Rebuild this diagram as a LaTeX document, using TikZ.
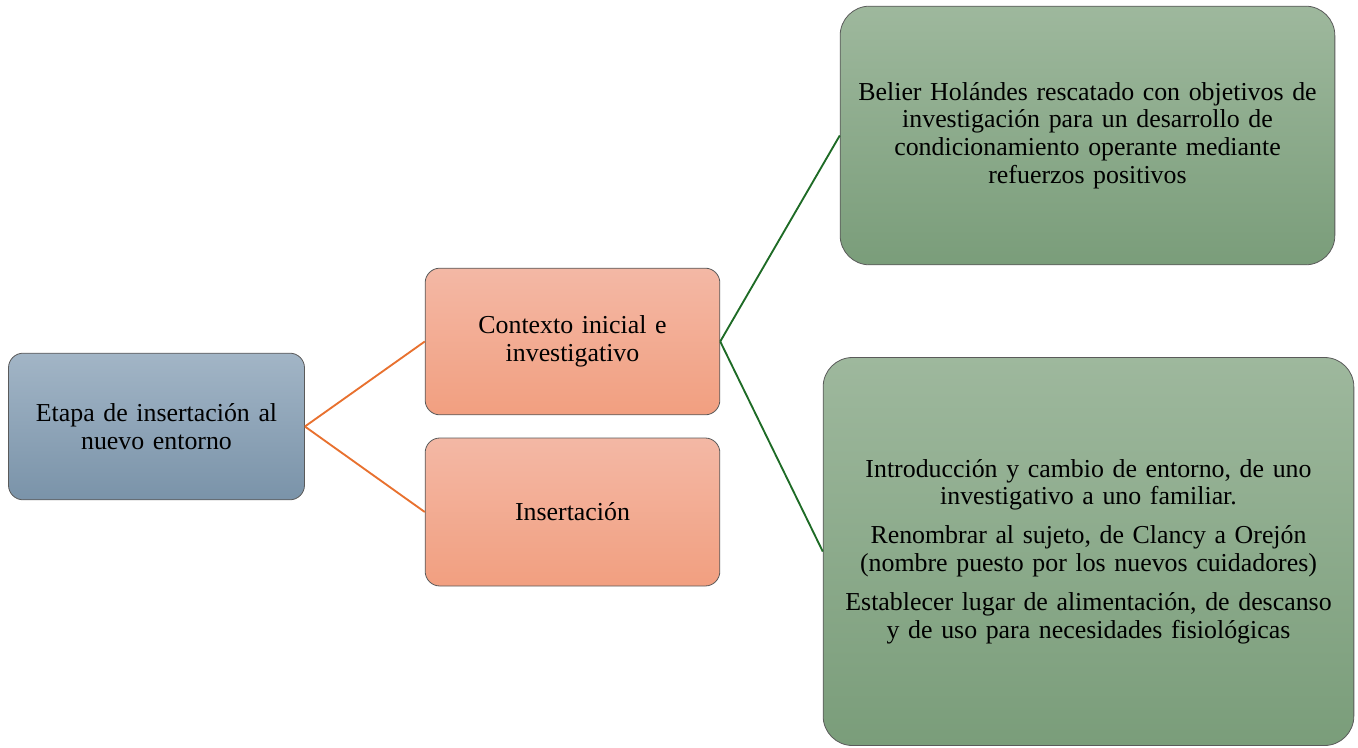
\documentclass[tikz,border=0pt]{standalone}
\usepackage{fontspec}
\setmainfont{Liberation Serif}
\definecolor{bluetop}{HTML}{A2B5C6}
\definecolor{bluebot}{HTML}{7A93A9}
\definecolor{saltop}{HTML}{F3B8A5}
\definecolor{salbot}{HTML}{F29F80}
\definecolor{grntop}{HTML}{9EB89D}
\definecolor{grnbot}{HTML}{7A9D7A}
\definecolor{edge}{HTML}{5A5A5A}
\definecolor{orangeline}{HTML}{E8712F}
\definecolor{greenline}{HTML}{1E6B26}
\tikzset{
  box/.style={draw=edge, line width=0.6pt, align=center, inner sep=4pt,
    font=\fontsize{19.4}{20.8}\selectfont},
  bluebox/.style={box, top color=bluetop, bottom color=bluebot, rounded corners=11pt},
  salbox/.style={box, top color=saltop, bottom color=salbot, rounded corners=11pt},
  grnbox/.style={box, top color=grntop, bottom color=grnbot, rounded corners=22pt},
  oline/.style={draw=orangeline, line width=1.4pt},
  gline/.style={draw=greenline, line width=1.4pt},
}
\begin{document}
\begin{tikzpicture}[x=0.75pt, y=-0.75pt]
\useasboundingbox (0,0) rectangle (1358,748);
\node[bluebox, minimum width=222pt, minimum height=110pt, text width=210pt] (A) at (156.5,426.5)
  {Etapa de insertación al\\nuevo entorno};
\node[salbox, minimum width=221pt, minimum height=110pt, text width=210pt] (B) at (572.5,341.5)
  {Contexto inicial e\\investigativo};
\node[salbox, minimum width=221pt, minimum height=111pt, text width=210pt] (C) at (572.5,512)
  {Insertación};
\node[grnbox, minimum width=371pt, minimum height=194pt, text width=360pt] (D) at (1087.5,135.5)
  {Belier Holándes rescatado con objetivos de\\investigación para un desarrollo de\\condicionamiento operante mediante\\refuerzos positivos};
\node[grnbox, minimum width=398pt, minimum height=291pt, text width=390pt] (E) at (1088.5,551.5)
  {Introducción y cambio de entorno, de uno\\investigativo a uno familiar.\\[8.5pt]
   Renombrar al sujeto, de Clancy a Orejón\\(nombre puesto por los nuevos cuidadores)\\[8.5pt]
   Establecer lugar de alimentación, de descanso\\y de uso para necesidades fisiológicas};
\draw[oline] (A.east) -- (B.west);
\draw[oline] (A.east) -- (C.west);
\draw[gline] (B.east) -- (D.west);
\draw[gline] (B.east) -- (E.west);
\end{tikzpicture}
\end{document}
